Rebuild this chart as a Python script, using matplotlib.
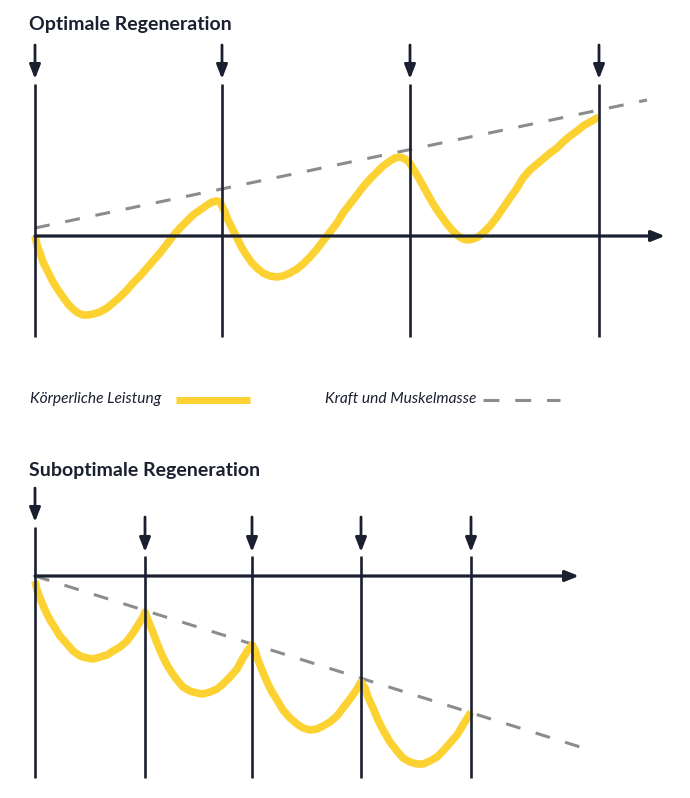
import matplotlib.pyplot as plt

# Einheiten: willkürliche Zeit-/Leistungseinheiten, Ursprung = Trainingsbeginn

# --- Optimale Regeneration (oben) ---
top_sessions = [0, 187, 375, 564]
top_t = [0, 2, 5, 8, 13, 18, 23, 28, 33, 38, 43, 48, 53, 58, 65, 72, 78, 85,
         92, 98, 105, 112, 118, 125, 132, 138, 145, 152, 158, 165, 172, 177,
         182, 185, 187,
         190, 193, 197, 202, 207, 212, 217, 222, 228, 235, 242, 248, 255, 262,
         268, 275, 282, 288, 295, 302, 308, 315, 322, 328, 335, 342, 348, 355,
         360, 365, 370, 374, 377,
         382, 387, 392, 397, 402, 407, 412, 417, 422, 428, 433, 438, 443, 448,
         455, 462, 468, 475, 482, 488, 495, 502, 508, 515, 522, 528, 535, 542,
         548, 555, 564]
top_p = [0, -9, -17, -26, -36, -46, -54, -61, -68, -73, -77, -79, -79, -78, -76,
         -72, -67, -61, -54, -47, -40, -32, -25, -17, -8, 0, 8, 15, 21, 26, 31,
         34, 35, 34, 30,
         24, 16, 8, -2, -12, -20, -27, -32, -37, -40, -41, -40, -37, -33, -28,
         -21, -13, -5, 4, 13, 23, 32, 41, 49, 57, 64, 70, 75, 78, 79, 77, 74, 69,
         61, 52, 43, 34, 26, 19, 12, 6, 1, -3, -4, -3, -1, 3, 10, 19, 28, 38,
         48, 58, 66, 72, 77, 83, 88, 94, 100, 105, 110, 114, 119]
top_trend_t = [0, 612]
top_trend_p = [8, 136]

# --- Suboptimale Regeneration (unten) ---
bot_sessions = [0, 110, 217, 326, 436]
bot_t = [0, 2, 5, 10, 15, 20, 25, 32, 38, 45, 52, 58, 65, 72, 78, 85, 92, 98,
         103, 108, 110,
         113, 117, 122, 127, 132, 137, 142, 148, 155, 162, 168, 175, 182, 188,
         195, 202, 208, 213, 217,
         220, 223, 227, 232, 237, 242, 248, 255, 262, 268, 275, 282, 288, 295,
         302, 308, 315, 322, 326,
         330, 333, 338, 343, 348, 355, 362, 368, 375, 382, 388, 395, 402, 408,
         415, 422, 428, 436]
bot_p = [-5, -14, -22, -34, -44, -52, -60, -68, -75, -80, -82, -83, -81, -79,
         -75, -71, -65, -57, -49, -41, -36,
         -44, -54, -67, -79, -89, -97, -104, -111, -115, -117, -118, -116, -113,
         -108, -101, -93, -82, -74, -69,
         -74, -84, -94, -106, -116, -124, -134, -142, -148, -152, -154, -153,
         -150, -146, -140, -132, -123, -113, -106,
         -112, -121, -132, -144, -154, -166, -175, -182, -186, -188, -188, -185,
         -181, -175, -167, -159, -149, -136]
bot_trend_t = [0, 558]
bot_trend_p = [0, -175]

legend_labels = ['Körperliche Leistung', 'Kraft und Muskelmasse']
titles = ['Optimale Regeneration', 'Suboptimale Regeneration']

dark = '#1b2030'
yellow = '#fcd232'
grey = '#8c8c8c'

fig = plt.figure(figsize=(6.9, 7.98), dpi=100)
W, H = 690, 798


def panel(origin, sessions, t, p, trend_t, trend_p, axis_end,
          line_bottom, line_tops, arrow_tops, arrow_tips):
    # Achsen über die ganze Abbildung, 1 Einheit = 1 Pixel
    ox, oy = origin
    ax = fig.add_axes([0, 0, 1, 1])
    ax.set_xlim(-ox, W - ox)
    ax.set_ylim(oy - H, oy)
    ax.axis('off')
    ax.patch.set_alpha(0)
    ax.plot(trend_t, trend_p, color=grey, lw=2.2, dashes=(4.9, 5.2), zorder=1)
    ax.plot(t, p, color=yellow, lw=5.5, solid_joinstyle='round',
            solid_capstyle='butt', zorder=2)
    for s, lt, at, tip in zip(sessions, line_tops, arrow_tops, arrow_tips):
        ax.plot([s, s], [line_bottom, lt], color=dark, lw=1.9,
                solid_capstyle='butt', zorder=3)
        ax.annotate('', xy=(s, tip), xytext=(s, at),
                    arrowprops=dict(arrowstyle='-|>,head_length=0.85,head_width=0.33',
                                    lw=2, color=dark, shrinkA=0, shrinkB=0))
    ax.annotate('', xy=(axis_end, 0), xytext=(0, 0),
                arrowprops=dict(arrowstyle='-|>,head_length=0.8,head_width=0.32',
                                lw=2.3, color=dark, shrinkA=0, shrinkB=0), zorder=3)
    return ax


panel((35, 236), top_sessions, top_t, top_p, top_trend_t, top_trend_p, 630,
      -101, [152] * 4, [191] * 4, [157] * 4)
panel((35, 576), bot_sessions, bot_t, bot_p, bot_trend_t, bot_trend_p, 544,
      -202, [49] + [20] * 4, [88] + [59] * 4, [54] + [24] * 4)

fig.text(29 / W, 1 - 30 / H, titles[0], family='Lato', weight='bold',
         fontsize=14, color=dark, va='baseline')
fig.text(29 / W, 1 - 476 / H, titles[1], family='Lato', weight='bold',
         fontsize=14, color=dark, va='baseline')

# Legende
fig.text(30 / W, 1 - 403 / H, legend_labels[0], family='Lato', style='italic',
         fontsize=11.2, color=dark, va='baseline')
fig.text(325 / W, 1 - 403 / H, legend_labels[1], family='Lato', style='italic',
         fontsize=11.2, color=dark, va='baseline')
fig.add_artist(plt.Line2D([176 / W, 250 / W], [1 - 400 / H] * 2, color=yellow,
                          lw=5, solid_capstyle='butt'))
fig.add_artist(plt.Line2D([483 / W, 560 / W], [1 - 400 / H] * 2, color=grey,
                          lw=2.2, dashes=(5.2, 5.2)))

fig.savefig('out.png', dpi=100)
